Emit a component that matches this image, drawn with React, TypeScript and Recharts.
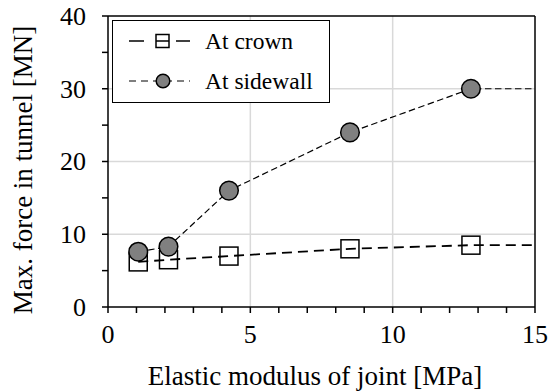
import { CartesianGrid, Legend, Line, LineChart, ReferenceLine, XAxis, YAxis } from "recharts"

const FONT = "Liberation Serif, DejaVu Serif, serif"

// measured points: joint modulus [MPa] vs max force [MN]
const jointModulus = [1.0625, 2.125, 4.25, 8.5, 12.75]
const crownForce = [6.2, 6.5, 7.0, 8.0, 8.5]
const sidewallForce = [7.6, 8.3, 16.0, 24.0, 30.0]
const seriesNames = ["At crown", "At sidewall"]

const xTicks = [0, 1, 2, 3, 4, 5, 6, 7, 8, 9, 10, 11, 12, 13, 14, 15]
const yTicks = [0, 5, 10, 15, 20, 25, 30, 35, 40]
const xGrid = [5, 10]
const yGrid = [10, 20, 30]
const X_MAX = 15
const Y_MAX = 40

type Pt = { x: number; y: number; tail?: boolean }

// the last value is carried flat to the right edge of the plot, without a marker
const withTail = (ys: number[]): Pt[] => [
  ...jointModulus.map((x, i) => ({ x, y: ys[i] })),
  { x: X_MAX, y: ys[ys.length - 1], tail: true },
]

const crownData = withTail(crownForce)
const sidewallData = withTail(sidewallForce)

const SquareDot = (p: any) => {
  if (p.payload?.tail) return <g key={p.key} />
  return (
    <rect key={p.key} x={p.cx - 9} y={p.cy - 9} width={18} height={18}
      fill="none" stroke="#000" strokeWidth={1.5} />
  )
}

const CircleDot = (p: any) => {
  if (p.payload?.tail) return <g key={p.key} />
  return <circle key={p.key} cx={p.cx} cy={p.cy} r={9.3} fill="#808080" stroke="#000" strokeWidth={1.5} />
}

const XTick = (p: any) =>
  p.payload.value % 5 === 0 ? (
    <text x={p.x} y={p.y} dy="0.71em" textAnchor="middle" style={{ fontFamily: FONT }} fontSize={26} fill="#000">
      {p.payload.value}
    </text>
  ) : <g />

const YTick = (p: any) =>
  p.payload.value % 10 === 0 ? (
    <text x={p.x} y={p.y} dy="0.34em" textAnchor="end" style={{ fontFamily: FONT }} fontSize={26} fill="#000">
      {p.payload.value}
    </text>
  ) : <g />

function LegendBox() {
  const row = (top: number, sample: JSX.Element, label: string) => (
    <div style={{ position: "absolute", left: 0, top, height: 28, width: "100%", display: "flex", alignItems: "center" }}>
      <svg width={62} height={20} style={{ marginLeft: 16, flex: "none" }}>{sample}</svg>
      <span style={{ marginLeft: 14, lineHeight: "28px" }}>{label}</span>
    </div>
  )
  return (
    <div style={{
      position: "relative", width: 218, height: 83, boxSizing: "border-box",
      border: "1.5px solid #000", background: "#fff", fontFamily: FONT, fontSize: 23.5, color: "#000",
    }}>
      {row(6, (
        <g stroke="#000" strokeWidth={1.5}>
          <line x1={0} y1={10} x2={15} y2={10} />
          <line x1={27} y1={10} x2={40} y2={10} />
          <line x1={47} y1={10} x2={61} y2={10} />
          <rect x={27} y={3.5} width={13} height={13} fill="none" />
        </g>
      ), seriesNames[0])}
      {row(46, (
        <g stroke="#000">
          <line x1={0} y1={10} x2={61} y2={10} strokeWidth={1.2} strokeDasharray="7 5" />
          <circle cx={34} cy={10} r={6.8} fill="#808080" strokeWidth={1.5} />
        </g>
      ), seriesNames[1])}
    </div>
  )
}

export default function App() {
  return (
    <div style={{ position: "absolute", left: 0, top: 0, background: "#fff", fontFamily: FONT }}>
      <LineChart width={555} height={392} margin={{ top: 16, right: 20, bottom: 0, left: 0 }} style={{ fontFamily: FONT }}>
        <CartesianGrid stroke="#d9d9d9" strokeWidth={1.5} horizontalValues={yGrid} verticalValues={xGrid} />
        <XAxis
          dataKey="x" type="number" domain={[0, X_MAX]} ticks={xTicks} interval={0}
          height={85} tickSize={6} tickMargin={12} tick={XTick}
          axisLine={{ stroke: "#000", strokeWidth: 1.5 }} tickLine={{ stroke: "#000", strokeWidth: 1.5 }}
          label={{
            content: () => (
              <text x={315} y={385} textAnchor="middle" style={{ fontFamily: FONT }} fontSize={27} fill="#000">
                Elastic modulus of joint [MPa]
              </text>
            ),
          }}
        />
        <YAxis
          type="number" domain={[0, Y_MAX]} ticks={yTicks} interval={0}
          width={108} tickSize={6} tickMargin={16} tick={YTick}
          axisLine={{ stroke: "#000", strokeWidth: 1.5 }} tickLine={{ stroke: "#000", strokeWidth: 1.5 }}
          label={{
            content: () => (
              <text x={32} y={170} transform="rotate(-90 32 170)" textAnchor="middle" style={{ fontFamily: FONT }} fontSize={27} fill="#000">
                Max. force in tunnel [MN]
              </text>
            ),
          }}
        />
        <ReferenceLine y={Y_MAX} stroke="#000" strokeWidth={1.5} />
        <ReferenceLine x={X_MAX} stroke="#000" strokeWidth={1.5} />
        <Line data={crownData} dataKey="y" name={seriesNames[0]} type="linear" stroke="#000" strokeWidth={1.8}
          strokeDasharray="10 6" dot={SquareDot} isAnimationActive={false} />
        <Line data={sidewallData} dataKey="y" name={seriesNames[1]} type="linear" stroke="#000" strokeWidth={1.2}
          strokeDasharray="6.5 3.5" dot={CircleDot} isAnimationActive={false} />
        <Legend layout="vertical" align="center" verticalAlign="middle" content={<LegendBox />}
          wrapperStyle={{ left: 112, top: 20, width: 218, height: 83 }} />
      </LineChart>
    </div>
  )
}
